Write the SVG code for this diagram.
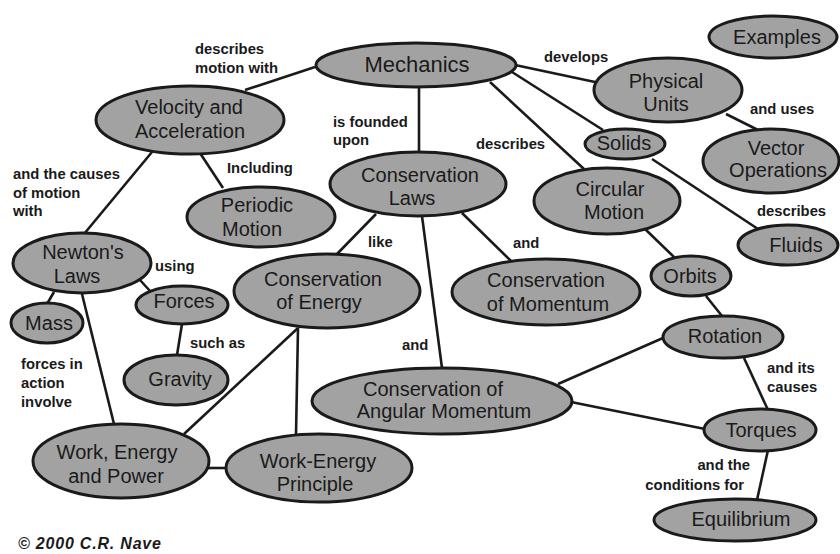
<svg xmlns="http://www.w3.org/2000/svg" width="840" height="554" viewBox="0 0 840 554">
<style>
.n{fill:#a2a2a2;stroke:#1a1a1a;stroke-width:3}
.t{font-family:"Liberation Sans",Arial,sans-serif;font-size:20px;fill:#1a1a1a;text-anchor:middle}
.l{font-family:"Liberation Sans",Arial,sans-serif;font-size:14.8px;font-weight:bold;fill:#1a1a1a}
.c line{stroke:#1a1a1a;stroke-width:2.6}
</style>
<rect width="840" height="554" fill="#ffffff"/>
<g id="connectors" class="c">
<line x1="315" y1="67" x2="245" y2="90"/>
<line x1="419" y1="88" x2="419" y2="151"/>
<line x1="515" y1="65" x2="595" y2="82"/>
<line x1="512" y1="72" x2="603" y2="130"/>
<line x1="490" y1="82" x2="584" y2="169"/>
<line x1="726" y1="114" x2="758" y2="130"/>
<line x1="652" y1="159" x2="758" y2="229"/>
<line x1="645" y1="229" x2="674" y2="257"/>
<line x1="706" y1="296" x2="722" y2="316"/>
<line x1="663" y1="338" x2="558" y2="384"/>
<line x1="744" y1="358" x2="768" y2="410"/>
<line x1="571" y1="402" x2="705" y2="429"/>
<line x1="768" y1="450" x2="757" y2="500"/>
<line x1="152" y1="152" x2="84" y2="234"/>
<line x1="200" y1="153" x2="223" y2="188"/>
<line x1="376" y1="214" x2="337" y2="254"/>
<line x1="422" y1="216" x2="442" y2="368"/>
<line x1="462" y1="213" x2="511" y2="261"/>
<line x1="298" y1="328" x2="296" y2="435"/>
<line x1="298" y1="328" x2="184" y2="434"/>
<line x1="54" y1="292" x2="47" y2="304"/>
<line x1="140" y1="280" x2="150" y2="291"/>
<line x1="82" y1="294" x2="114" y2="424"/>
<line x1="182" y1="324" x2="177" y2="355"/>
<line x1="208" y1="468" x2="226" y2="468"/>
</g>
<g id="mechanics"><ellipse class="n" cx="416" cy="65" rx="100" ry="22"/><text class="t" x="417" y="72" style="font-size:22px">Mechanics</text></g>
<g id="examples"><ellipse class="n" cx="773" cy="37" rx="64" ry="21"/><text class="t" x="777" y="44">Examples</text></g>
<g id="physical-units"><ellipse class="n" cx="668" cy="90" rx="74" ry="32"/><text class="t" x="666" y="88">Physical</text><text class="t" x="666" y="111">Units</text></g>
<g id="solids"><ellipse class="n" cx="625" cy="144" rx="40" ry="15"/><text class="t" x="624" y="150">Solids</text></g>
<g id="vector-operations"><ellipse class="n" cx="771" cy="161" rx="68" ry="32"/><text class="t" x="776" y="155">Vector</text><text class="t" x="778" y="177">Operations</text></g>
<g id="circular-motion"><ellipse class="n" cx="607" cy="201" rx="73" ry="33"/><text class="t" x="610" y="196">Circular</text><text class="t" x="614" y="219">Motion</text></g>
<g id="fluids"><ellipse class="n" cx="788" cy="245" rx="50" ry="20"/><text class="t" x="796" y="252">Fluids</text></g>
<g id="orbits"><ellipse class="n" cx="691" cy="276" rx="40" ry="20"/><text class="t" x="690" y="283">Orbits</text></g>
<g id="velocity-acceleration"><ellipse class="n" cx="190" cy="120" rx="94" ry="34"/><text class="t" x="189" y="114">Velocity and</text><text class="t" x="190" y="138">Acceleration</text></g>
<g id="conservation-laws"><ellipse class="n" cx="418" cy="184" rx="88" ry="32"/><text class="t" x="420" y="182">Conservation</text><text class="t" x="412" y="205">Laws</text></g>
<g id="periodic-motion"><ellipse class="n" cx="261" cy="217" rx="74" ry="30"/><text class="t" x="257" y="212">Periodic</text><text class="t" x="252" y="236">Motion</text></g>
<g id="newtons-laws"><ellipse class="n" cx="82" cy="263" rx="69" ry="30"/><text class="t" x="83" y="259">Newton's</text><text class="t" x="77" y="283">Laws</text></g>
<g id="mass"><ellipse class="n" cx="47" cy="323" rx="36" ry="20"/><text class="t" x="49" y="330">Mass</text></g>
<g id="forces"><ellipse class="n" cx="182" cy="305" rx="46" ry="19"/><text class="t" x="184" y="308">Forces</text></g>
<g id="gravity"><ellipse class="n" cx="176" cy="380" rx="52" ry="25"/><text class="t" x="180" y="386">Gravity</text></g>
<g id="conservation-energy"><ellipse class="n" cx="327" cy="291" rx="93" ry="37"/><text class="t" x="323" y="286">Conservation</text><text class="t" x="319" y="309">of Energy</text></g>
<g id="conservation-momentum"><ellipse class="n" cx="546" cy="292" rx="94" ry="33"/><text class="t" x="546" y="287">Conservation</text><text class="t" x="548" y="311">of Momentum</text></g>
<g id="rotation"><ellipse class="n" cx="723" cy="337" rx="60" ry="21"/><text class="t" x="725" y="343">Rotation</text></g>
<g id="conservation-angular-momentum"><ellipse class="n" cx="442" cy="401" rx="130" ry="33"/><text class="t" x="433" y="396">Conservation of</text><text class="t" x="444" y="418">Angular Momentum</text></g>
<g id="torques"><ellipse class="n" cx="760" cy="430" rx="56" ry="21"/><text class="t" x="761" y="437">Torques</text></g>
<g id="equilibrium"><ellipse class="n" cx="735" cy="520" rx="81" ry="21"/><text class="t" x="741" y="526">Equilibrium</text></g>
<g id="work-energy-power"><ellipse class="n" cx="121" cy="461" rx="88" ry="37"/><text class="t" x="117" y="459">Work, Energy</text><text class="t" x="116" y="483">and Power</text></g>
<g id="work-energy-principle"><ellipse class="n" cx="319" cy="468" rx="93" ry="34"/><text class="t" x="318" y="468">Work-Energy</text><text class="t" x="315" y="491">Principle</text></g>
<g id="labels">
<text class="l" x="195" y="54">describes</text><text class="l" x="195" y="73">motion with</text>
<text class="l" x="333" y="127">is founded</text><text class="l" x="333" y="145">upon</text>
<text class="l" x="544" y="62">develops</text>
<text class="l" x="476" y="149">describes</text>
<text class="l" x="227" y="173">Including</text>
<text class="l" x="13" y="179">and the causes</text><text class="l" x="13" y="198">of motion</text><text class="l" x="13" y="216">with</text>
<text class="l" x="750" y="114">and uses</text>
<text class="l" x="757" y="216">describes</text>
<text class="l" x="368" y="247">like</text>
<text class="l" x="513" y="248">and</text>
<text class="l" x="155" y="271">using</text>
<text class="l" x="190" y="348">such as</text>
<text class="l" x="402" y="350">and</text>
<text class="l" x="21" y="369">forces in</text><text class="l" x="21" y="388">action</text><text class="l" x="21" y="407">involve</text>
<text class="l" x="767" y="373">and its</text><text class="l" x="767" y="392">causes</text>
<text class="l" x="750" y="470" text-anchor="end">and the</text><text class="l" x="744" y="490" text-anchor="end">conditions for</text>
</g>
<text class="l" x="18" y="549" style="font-style:italic;font-size:16px;letter-spacing:0.8px">© 2000 C.R. Nave</text>
</svg>
